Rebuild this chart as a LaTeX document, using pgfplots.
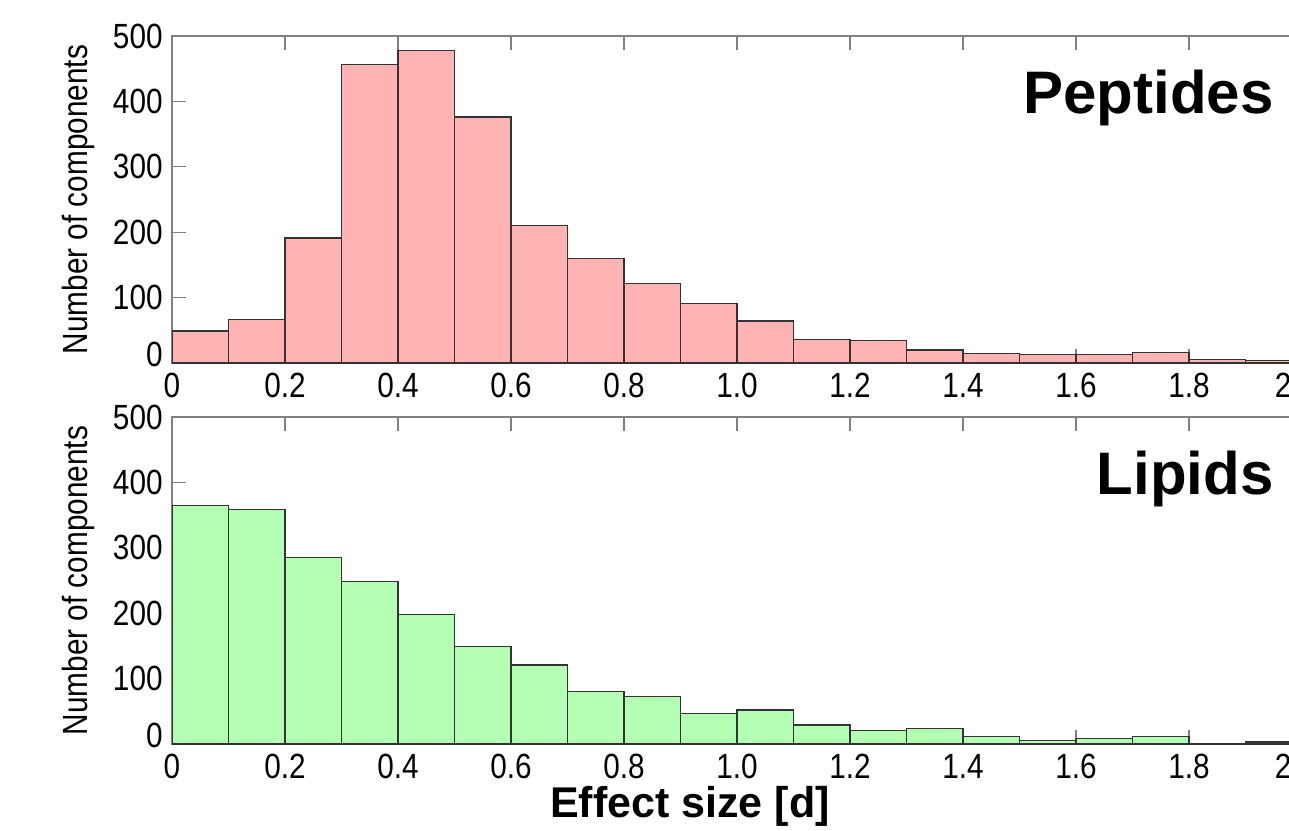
\documentclass[border=0pt]{standalone}
\usepackage{fontspec}
\setmainfont{Liberation Sans}
\newfontfamily\narrowfont[FakeStretch=0.85]{Liberation Sans}
\usepackage{pgfplots}
\usepackage{pgfplotstable}
\pgfplotsset{compat=1.18}
\definecolor{pepfill}{HTML}{FFB3B3}
\definecolor{lipfill}{HTML}{B3FFB3}
\definecolor{framegray}{HTML}{808080}
\definecolor{edgegray}{HTML}{333333}

% bin left edges, counts; last row closes the final interval
\pgfplotstableread{
x y
0.0 49
0.1 66
0.2 191
0.3 456
0.4 478
0.5 376
0.6 210
0.7 160
0.8 122
0.9 91
1.0 64
1.1 36
1.2 34
1.3 20
1.4 14
1.5 13
1.6 13
1.7 16
1.8 5
1.9 4
2.0 0
}\peptides

\pgfplotstableread{
x y
0.0 365
0.1 359
0.2 285
0.3 249
0.4 198
0.5 149
0.6 121
0.7 80
0.8 73
0.9 47
1.0 52
1.1 29
1.2 21
1.3 24
1.4 11
1.5 5
1.6 8
1.7 12
1.8 0
1.9 3
2.0 0
}\lipids

\pgfplotsset{histaxis/.style={
  scale only axis, width=565pt, height=163.5pt,
  xmin=0, xmax=2, ymin=0, ymax=500,
  xtick={0,0.2,0.4,0.6,0.8,1.0,1.2,1.4,1.6,1.8,2.0},
  xticklabels={0,0.2,0.4,0.6,0.8,1.0,1.2,1.4,1.6,1.8,\llap{2\kern5.3pt}},
  ytick={0,100,200,300,400,500},
  yticklabels={\raisebox{4.5pt}[\height][\depth]{0},100,200,300,400,500},
  tick align=inside, major tick length=7pt,
  xtick pos=both, ytick pos=left,
  axis line style={framegray, line width=0.6pt},
  tick style={framegray, line width=0.6pt},
  ticklabel style={font=\narrowfont\fontsize{17.5}{18}\selectfont, inner sep=0pt},
  xticklabel style={yshift=-5pt},
  yticklabel style={xshift=-4.5pt},
  ylabel={Number of components},
  ylabel style={font=\narrowfont\fontsize{17.5}{18}\selectfont,
    at={(axis description cs:-0.083,0.5)}, anchor=center},
}}

\begin{document}
\begin{tikzpicture}
\useasboundingbox (0,0) rectangle (644.5pt,-415pt);

\begin{axis}[histaxis, at={(86pt,-18pt)}, anchor=north west]
\addplot[ybar interval, fill=pepfill, draw=edgegray, line width=0.65pt] table {\peptides};
\end{axis}

\begin{axis}[histaxis, at={(86pt,-208.5pt)}, anchor=north west]
\addplot[ybar interval, fill=lipfill, draw=edgegray, line width=0.65pt] table {\lipids};
\end{axis}

\node[font=\bfseries\fontsize{30}{32}\selectfont, anchor=base east, inner sep=0pt] at (637pt,-56.5pt) {Peptides};
\node[font=\bfseries\fontsize{30}{32}\selectfont, anchor=base east, inner sep=0pt] at (637pt,-247pt) {Lipids};
\node[font=\bfseries\fontsize{21.5}{24}\selectfont, anchor=base, inner sep=0pt] at (345pt,-408.5pt) {Effect size [d]};
\end{tikzpicture}
\end{document}
